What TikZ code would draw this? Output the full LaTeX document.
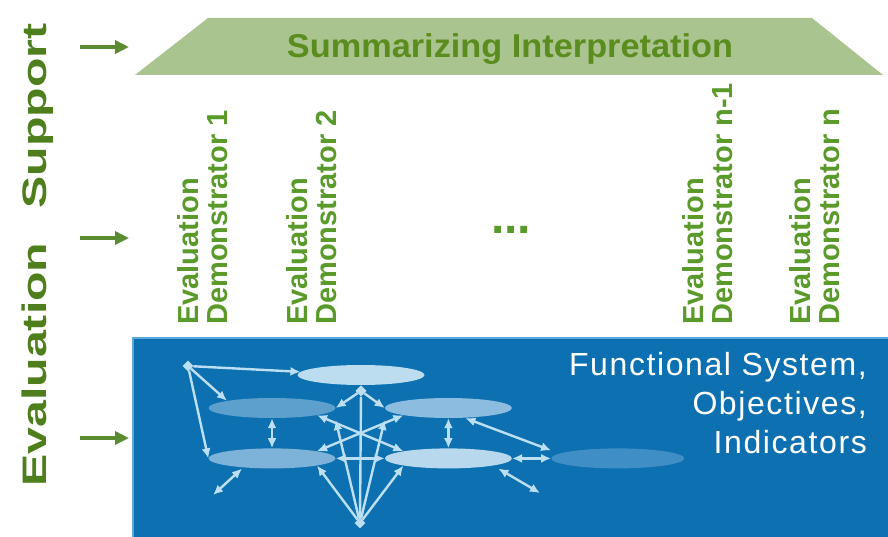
\documentclass[tikz,border=0pt]{standalone}
\usepackage{fontspec}
\setmainfont{Liberation Sans}
\newfontfamily\widesans[LetterSpace=5]{Liberation Sans}
\usepackage{tikz}
\usetikzlibrary{
  arrows.meta, % for the Latex and Triangle arrow tips
  positioning, % for relative positioning of the ellipses
  shapes.geometric % for the ellipse and diamond shapes
}
\definecolor{tagdark}{HTML}{4F7F1D}
\definecolor{taglight}{HTML}{5A9A2A}
\definecolor{sage}{HTML}{A9C48F}
\definecolor{sagetext}{HTML}{5A8C1E}
\definecolor{feedgreen}{HTML}{5B8C32}
\definecolor{sysblue}{HTML}{0D70B0}
\definecolor{sysedge}{HTML}{5AA9DC}
\definecolor{linkblue}{HTML}{BCDFF3}
\definecolor{ovA}{HTML}{BCDCF0}
\definecolor{ovB}{HTML}{5D9FCD}
\definecolor{ovC}{HTML}{8CBDE0}
\definecolor{ovD}{HTML}{7DB3D9}
\definecolor{ovE}{HTML}{B8D8EE}
\definecolor{ovF}{HTML}{3F8EC6}
\tikzset{
  sidetag/.style={ % style for the big label on the left
    rotate=90,xscale=1.42, % turned upright and stretched along the line
    inner sep=0pt,anchor=base west,
    text=tagdark,font=\bfseries\fontsize{34}{40}\selectfont,
  },
  demo/.style={ % style for the demonstrator labels
    rotate=90,align=left,anchor=west,
    inner sep=0pt,
    text=taglight,font=\bfseries\fontsize{29}{29}\selectfont,
  },
  feed/.style={ % style for the green arrows on the left
    -{Triangle[length=14pt,width=13pt]},
    line width=4pt,draw=feedgreen,
  },
  oval/.style={ % style for the ellipses of the system
    ellipse,inner sep=0pt,
    minimum width=127pt,minimum height=20pt,
  },
  hub/.style={ % style for the small starting points
    diamond,fill=linkblue,inner sep=0pt,minimum size=11pt,
  },
  link/.style={ % style for the one way links
    -{Latex[length=10pt,width=9pt]},
    line width=2.4pt,draw=linkblue,
  },
  link2/.style={ % style for the two way links
    {Latex[length=10pt,width=9pt]}-{Latex[length=10pt,width=9pt]},
    line width=2.4pt,draw=linkblue,
  },
}

\begin{document}
\begin{tikzpicture}[x=1pt,y=-1pt]
\useasboundingbox[fill=white] (0,0) rectangle (888,537);
% big label and arrows on the left
\node[sidetag] (evsup) at (46,487) {Evaluation\hspace{24pt}Support};
\foreach \y/\n in {47/a,238/b,438/c} {
  \coordinate (\n0) at (80,\y);
  \coordinate (\n1) at (129,\y);
  \draw[feed] (\n0) -- (\n1);
}
% summarizing interpretation
\fill[sage] (135,75) -- (208,18) -- (812,18) -- (883,75) -- cycle;
\node[inner sep=0pt,anchor=base,xscale=1.04,text=sagetext,font=\bfseries\fontsize{33}{40}\selectfont] (sumint) at (510,58) {Summarizing Interpretation};
% demonstrators
\node[demo] (ed1) at (203,325) {Evaluation\\Demonstrator 1};
\node[demo] (ed2) at (312,325) {Evaluation\\Demonstrator 2};
\node[inner sep=0pt,anchor=base,text=taglight,font=\bfseries\fontsize{48}{48}\selectfont] (gap) at (511,234) {...};
\node[demo] (edn1) at (708,325) {Evaluation\\Demonstrator n-1};
\node[demo] (edn) at (815,325) {Evaluation\\Demonstrator n};
% functional system
\draw[fill=sysblue,draw=sysedge,line width=1.5pt] (133,338) rectangle (892,541);
\node[oval,fill=ovA] (A) at (361,375) {};
\node[oval,fill=ovB] (B) at (272,408) {};
\node[oval,fill=ovC,right=49pt of B] (C) {};
\node[oval,fill=ovD,below=30pt of B] (D) {};
\node[oval,fill=ovE,right=49pt of D] (E) {};
\node[oval,fill=ovF,minimum width=133pt,right=39pt of E] (F) {};
\node[hub] (tl) at (188,366) {};
\node[hub,below=0pt of A] (Ah) {};
\node[hub] (bh) at (360,523) {};
\coordinate (dfree) at (213,495);
\coordinate (efree) at (540,493);
\draw[link] (tl) -- (A);
\draw[link] (tl) -- (B.north west);
\draw[link] (tl) -- (D.west);
\draw[link] (Ah) -- (B.east);
\draw[link] (Ah) -- (C.west);
\draw[line width=2.4pt,draw=linkblue] (Ah) -- (bh);
\draw[link2] (B) -- (D);
\draw[link2] (C) -- (E);
\draw[link2] (D) -- (E);
\draw[link2] (E) -- (F);
\draw[link2] (B.south east) -- (E.north west);
\draw[link2] (C.south west) -- (D.north east);
\draw[link] (bh) -- (D.south east);
\draw[link] (bh) -- (E.south west);
\draw[link] (bh) -- ([yshift=-12pt]B.east);
\draw[link] (bh) -- ([yshift=-12pt]C.west);
\draw[link2] ([xshift=17pt]C.south) -- ([yshift=8pt]F.west);
\draw[link2] ([xshift=-30pt]D.south) -- (dfree);
\draw[link2] ([xshift=50pt]E.south) -- (efree);
\node[inner sep=0pt,anchor=north east,align=right,text=white,font=\widesans\fontsize{32}{39}\selectfont] (fsys) at (867,352) {Functional System,\\Objectives,\\Indicators};
\end{tikzpicture}
\end{document}
